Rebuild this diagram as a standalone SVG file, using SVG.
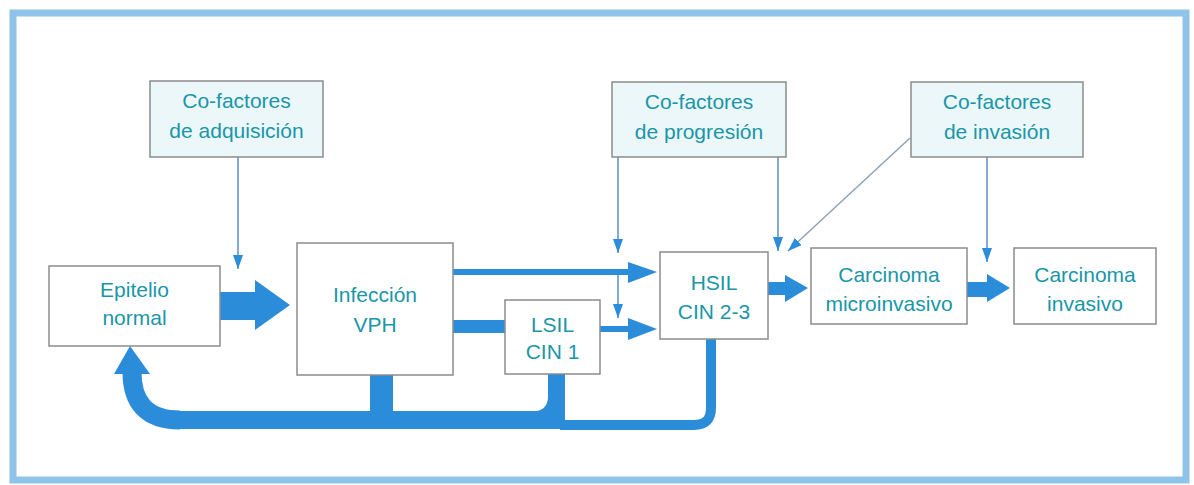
<svg xmlns="http://www.w3.org/2000/svg" width="1194" height="485" viewBox="0 0 1194 485">
<style>
  .box { fill: #ffffff; stroke: #8c8c8c; stroke-width: 1.5; }
  .cof { fill: #ebf7f9; stroke: #8c8c8c; stroke-width: 1.5; }
  .t { font-family: "Liberation Sans", Arial, sans-serif; font-size: 21px; fill: #1a96a8; text-anchor: middle; }
  .thin { stroke: #5a8fc9; stroke-width: 1.5; fill: none; }
  .diag { stroke: #8fa3b8; stroke-width: 1.5; fill: none; }
  .fat { fill: #2b8cd9; }
  .fatline { stroke: #2b8cd9; fill: none; }
</style>
<defs>
  <marker id="ah" viewBox="0 0 14 10" refX="14" refY="5" markerWidth="14" markerHeight="10" markerUnits="userSpaceOnUse" orient="auto">
    <path d="M0,0 L14,5 L0,10 Z" fill="#2b8cd9"/>
  </marker>
</defs>
<rect x="0" y="0" width="1194" height="485" fill="#ffffff"/>
<rect x="13" y="13" width="1173" height="467" fill="#ffffff" stroke="#8fc3ea" stroke-width="7"/>

<g id="connectors">
  <!-- cofactor thin arrows -->
  <line class="thin" x1="238" y1="157" x2="238" y2="269" marker-end="url(#ah)"/>
  <line class="thin" x1="618" y1="157" x2="618" y2="253" marker-end="url(#ah)"/>
  <line class="thin" x1="618" y1="272" x2="618" y2="318" marker-end="url(#ah)"/>
  <line class="thin" x1="778" y1="157" x2="778" y2="251" marker-end="url(#ah)"/>
  <line class="diag" x1="910" y1="138" x2="788" y2="251" marker-end="url(#ah)"/>
  <line class="thin" x1="987" y1="157" x2="987" y2="262" marker-end="url(#ah)"/>

  <!-- Epitelio -> Infeccion -->
  <polygon class="fat" points="220,292 255,292 255,280 290,305 255,330 255,320 220,320"/>
  <!-- Infeccion -> HSIL (top) -->
  <polygon class="fat" points="453,269 628,269 628,262 657,272 628,283 628,275 453,275"/>
  <!-- Infeccion -> LSIL -->
  <rect class="fat" x="453" y="320" width="52" height="13"/>
  <!-- LSIL -> HSIL -->
  <polygon class="fat" points="600,326 628,326 628,318 657,329 628,340 628,332 600,332"/>
  <!-- HSIL -> Carcinoma micro -->
  <polygon class="fat" points="768,282 785,282 785,275 808,288 785,302 785,295 768,295"/>
  <!-- micro -> invasivo -->
  <polygon class="fat" points="967,282 987,282 987,274 1010,288 987,302 987,297 967,297"/>

  <!-- regression feedback -->
  <path class="fatline" stroke-width="10" d="M711,339 V408 Q711,425 694,425 H560"/>
  <rect class="fat" x="548" y="374" width="17" height="52"/>
  <path class="fat" d="M532,411.5 Q548,411.5 548,396 V412 Z"/>
  <rect class="fat" x="370" y="375" width="23" height="45"/>
  <rect class="fat" x="178" y="411" width="387" height="18"/>
  <path class="fatline" stroke-width="19" d="M132,372 C132,402 146,420 180,420"/>
  <polygon class="fat" points="130,346 114,374 150,374"/>
</g>

<g id="cof-adq">
  <rect class="cof" x="150" y="81" width="173" height="76"/>
  <text class="t" x="236.5" y="108">Co-factores</text>
  <text class="t" x="236.5" y="138">de adquisición</text>
</g>
<g id="cof-prog">
  <rect class="cof" x="612" y="82" width="174" height="75"/>
  <text class="t" x="699" y="109">Co-factores</text>
  <text class="t" x="699" y="139">de progresión</text>
</g>
<g id="cof-inv">
  <rect class="cof" x="911" y="82" width="172" height="75"/>
  <text class="t" x="997" y="109">Co-factores</text>
  <text class="t" x="997" y="139">de invasión</text>
</g>
<g id="epitelio">
  <rect class="box" x="49" y="266" width="171" height="80"/>
  <text class="t" x="134.5" y="297">Epitelio</text>
  <text class="t" x="134.5" y="325">normal</text>
</g>
<g id="infeccion">
  <rect class="box" x="297" y="243" width="156" height="132"/>
  <text class="t" x="375" y="302">Infección</text>
  <text class="t" x="375" y="332">VPH</text>
</g>
<g id="lsil">
  <rect class="box" x="505" y="300" width="95" height="74"/>
  <text class="t" x="552.5" y="332">LSIL</text>
  <text class="t" x="552.5" y="359">CIN 1</text>
</g>
<g id="hsil">
  <rect class="box" x="660" y="252" width="108" height="87"/>
  <text class="t" x="714" y="290">HSIL</text>
  <text class="t" x="714" y="319">CIN 2-3</text>
</g>
<g id="micro">
  <rect class="box" x="811" y="248" width="156" height="76"/>
  <text class="t" x="889" y="282">Carcinoma</text>
  <text class="t" x="889" y="311">microinvasivo</text>
</g>
<g id="invasivo">
  <rect class="box" x="1014" y="248" width="142" height="76"/>
  <text class="t" x="1085" y="282">Carcinoma</text>
  <text class="t" x="1085" y="311">invasivo</text>
</g>
</svg>
